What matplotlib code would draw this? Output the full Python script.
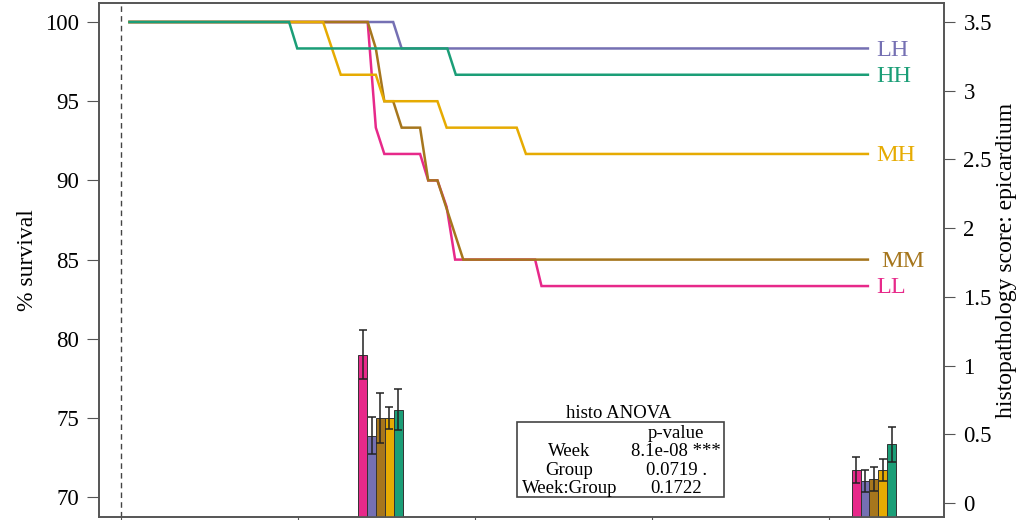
import matplotlib
matplotlib.use('Agg')
import matplotlib.pyplot as plt
from matplotlib.patches import Rectangle
from matplotlib.ticker import FormatStrFormatter

plt.rcParams['font.family'] = ['Liberation Serif', 'DejaVu Serif']

# groups in bar order, Dark2 colours
groups = ['LL', 'LH', 'MM', 'MH', 'HH']
group_colors = ['#e7298a', '#7570b3', '#a6761d', '#e6ab02', '#1b9e77']

# survival curves (% survival at each sampling day)
ll_days = [2.4, 69.7, 72.0, 74.4, 84.5, 86.8, 89.4, 92.0, 94.4, 117.0, 118.8, 211]
ll_surv = [100, 100, 93.33, 91.67, 91.67, 90, 90, 88.33, 85, 85, 83.33, 83.33]
lh_days = [2.4, 76.9, 79.3, 211]
lh_surv = [100, 100, 98.33, 98.33]
mm_days = [2.4, 69.7, 72.0, 74.4, 76.9, 79.3, 84.5, 86.8, 89.4, 96.7, 211]
mm_surv = [100, 100, 98.33, 95, 95, 93.33, 93.33, 90, 90, 85, 85]
mh_days = [2.4, 57.1, 62.1, 72.0, 74.4, 89.4, 92.0, 111.8, 114.4, 211]
mh_surv = [100, 100, 96.67, 96.67, 95, 95, 93.33, 93.33, 91.67, 91.67]
hh_days = [2.4, 47.5, 49.8, 92.2, 94.6, 211]
hh_surv = [100, 100, 98.33, 98.33, 96.67, 96.67]

# histopathology score (mean, error) at two sampling days, in group order
histo_days = [73.3, 212.7]
histo_mean_1 = [1.08, 0.49, 0.62, 0.62, 0.68]
histo_err_1 = [0.18, 0.135, 0.18, 0.077, 0.15]
histo_mean_2 = [0.24, 0.16, 0.177, 0.245, 0.427]
histo_err_2 = [0.095, 0.08, 0.09, 0.08, 0.13]

# ANOVA table
anova_terms = ['Week', 'Group', 'Week:Group']
anova_pvals = ['8.1e-08 ***', '0.0719 .', '0.1722']

frame_col = '#555555'

fig = plt.figure(figsize=(10.28, 5.2), dpi=100)
ax = fig.add_axes([99 / 1028, 3 / 520, 845 / 1028, 514 / 520])
ax2 = ax.twinx()

# survival lines + end labels
curves = [(ll_days, ll_surv), (lh_days, lh_surv), (mm_days, mm_surv),
          (mh_days, mh_surv), (hh_days, hh_surv)]
label_dx = {'MM': 3.9}
for g, c, (d, s) in zip(groups, group_colors, curves):
    ax.plot(d, s, color=c, lw=1.8, solid_joinstyle='miter')
    ax.text(d[-1] + label_dx.get(g, 2.3), s[-1] - 0.12, g, color=c,
            fontsize=17.5, ha='left', va='center')

ax.axvline(0, color='#444444', lw=1.0, ls=(0, (4, 3)))

ax.set_xlim(-6.2, 232.5)
ax.set_ylim(68.75, 101.2)
ax.set_xticks([0, 50, 100, 150, 200])
ax.set_yticks([70, 75, 80, 85, 90, 95, 100])
ax.tick_params(axis='x', labelbottom=False, length=8.5, color=frame_col)
ax.tick_params(axis='y', labelsize=16.5, length=8.5, pad=6, color=frame_col)
ax.set_ylabel('% survival', fontsize=17, labelpad=5)

# histo bars on right axis
ylo2 = -0.1
bw = 2.51
for day, means, errs in [(histo_days[0], histo_mean_1, histo_err_1),
                         (histo_days[1], histo_mean_2, histo_err_2)]:
    xs = [day + (i - 2) * bw for i in range(len(groups))]
    ax2.bar(xs, [m - ylo2 for m in means], bottom=ylo2, width=bw,
            color=group_colors, edgecolor='#333333', linewidth=0.7)
    ax2.errorbar(xs, means, yerr=errs, fmt='none', ecolor='#222222',
                 elinewidth=1.1, capsize=3, capthick=1.1)

ax2.set_ylim(ylo2, 3.636)
ax2.set_yticks([0, 0.5, 1, 1.5, 2, 2.5, 3, 3.5])
ax2.yaxis.set_major_formatter(FormatStrFormatter('%g'))
ax2.tick_params(axis='y', labelsize=16.5, length=8, pad=6, color=frame_col)
ax2.set_ylabel('histopathology score: epicardium', fontsize=17, labelpad=3)

for a in (ax, ax2):
    for sp in a.spines.values():
        sp.set_color(frame_col)
        sp.set_linewidth(1.2)

# ANOVA table box
ax2.text(0.615, 0.202, 'histo ANOVA', transform=ax.transAxes, fontsize=13.5,
         ha='center', va='center')
ax2.add_patch(Rectangle((0.4947, 0.039), 0.245, 0.1465, transform=ax.transAxes,
                        fill=False, edgecolor='#444444', lw=1.2))
ax2.text(0.683, 0.163, 'p-value', transform=ax.transAxes, fontsize=13.5,
         ha='center', va='center')
row_y = [0.1265, 0.0914, 0.0564]
for term, pv, y in zip(anova_terms, anova_pvals, row_y):
    ax2.text(0.557, y, term, transform=ax.transAxes, fontsize=13.5,
             ha='center', va='center')
    ax2.text(0.683, y, pv, transform=ax.transAxes, fontsize=13.5,
             ha='center', va='center')

fig.savefig('out.png', dpi=100)
